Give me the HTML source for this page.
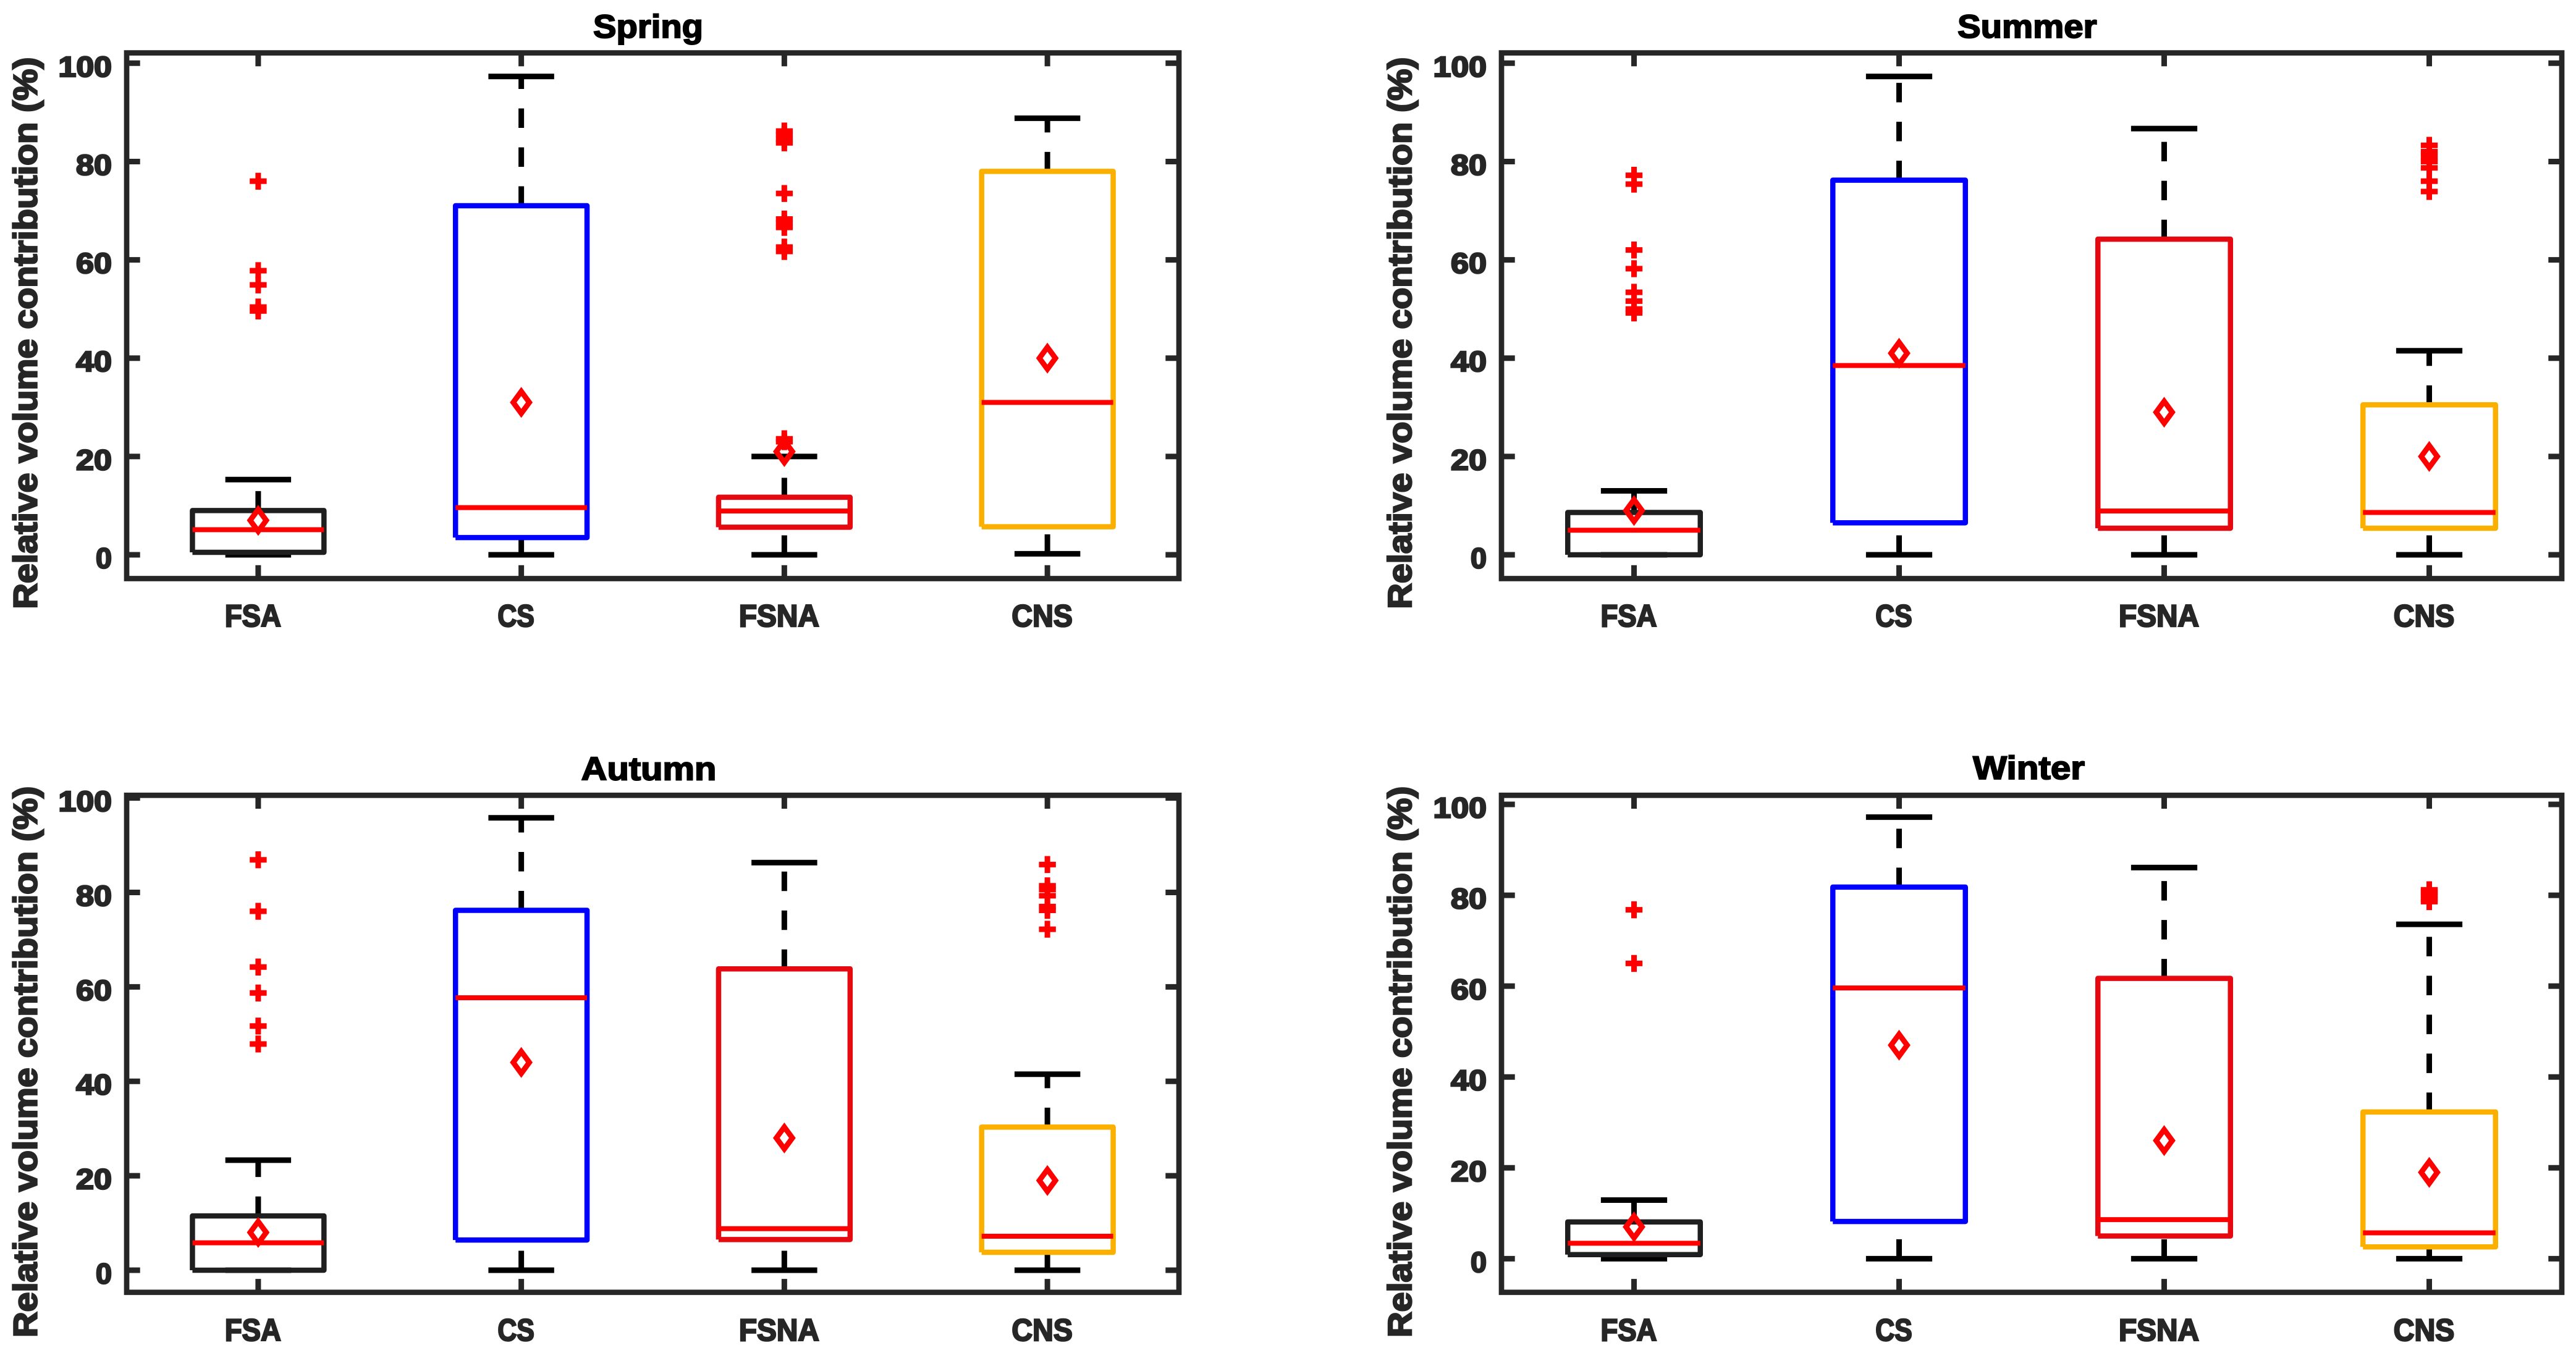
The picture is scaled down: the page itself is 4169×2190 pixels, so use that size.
<!DOCTYPE html>
<html lang="en">
<head>
<meta charset="utf-8">
<title>Relative volume contribution by season</title>
<style>
html,body{margin:0;padding:0;background:#fff;width:4169px;height:2190px;overflow:hidden}
svg{display:block}
text{font-family:"Liberation Sans",sans-serif;font-weight:700}
.lab{fill:#262626;stroke:#262626;stroke-width:2.5}
.ttl{fill:#000;stroke:#000;stroke-width:2}
</style>
</head>
<body>
<svg id="figure" xmlns="http://www.w3.org/2000/svg" width="4169" height="2190" viewBox="0 0 4169 2190">
  <rect x="0" y="0" width="4169" height="2190" fill="#fff"/>
  <text class="ttl" x="960" y="61.2" font-size="53" textLength="178" lengthAdjust="spacingAndGlyphs">Spring</text>
  <text class="ttl" x="3168" y="61.2" font-size="53" textLength="225.5" lengthAdjust="spacingAndGlyphs">Summer</text>
  <text class="ttl" x="940.7" y="1262.3" font-size="53" textLength="218.7" lengthAdjust="spacingAndGlyphs">Autumn</text>
  <text class="ttl" x="3193" y="1260.9" font-size="53" textLength="181" lengthAdjust="spacingAndGlyphs">Winter</text>
  <text class="lab" transform="translate(59.5 985.6) rotate(-90)" font-size="54" textLength="893" lengthAdjust="spacingAndGlyphs">Relative volume contribution (%)</text>
  <text class="lab" transform="translate(2284 985.6) rotate(-90)" font-size="54" textLength="893" lengthAdjust="spacingAndGlyphs">Relative volume contribution (%)</text>
  <text class="lab" transform="translate(59.5 2164.8) rotate(-90)" font-size="54" textLength="892" lengthAdjust="spacingAndGlyphs">Relative volume contribution (%)</text>
  <text class="lab" transform="translate(2284 2164.8) rotate(-90)" font-size="54" textLength="892" lengthAdjust="spacingAndGlyphs">Relative volume contribution (%)</text>
</svg>
<script>
const categories = ['FSA', 'CS', 'FSNA', 'CNS'];
const yTickValues = [0, 20, 40, 60, 80, 100];
const yTickLabels = ['0', '20', '40', '60', '80', '100'];

const springHigh = [15.3, 97.3, 20, 88.8];
const springQ3 = [9, 71, 11.7, 78];
const springMedian = [5.1, 9.6, 8.9, 31];
const springQ1 = [0.5, 3.5, 5.6, 5.7];
const springLow = [0, 0, 0, 0.2];
const springMean = [7, 31, 21, 40];
const springOutliers = [
  [76, 57.8, 54.9, 50.4, 49.6],
  [],
  [86.2, 85.5, 84.5, 83.8, 73.5, 68.3, 67.5, 66.6, 62.6, 61.7, 23.6, 23],
  []
];

const summerHigh = [13, 97.3, 86.7, 41.5];
const summerQ3 = [8.6, 76.2, 64.2, 30.5];
const summerMedian = [5, 38.5, 8.9, 8.6];
const summerQ1 = [0, 6.5, 5.4, 5.4];
const summerLow = [0, 0, 0, 0];
const summerMean = [9, 41, 29, 20];
const summerOutliers = [
  [77.2, 75.4, 62, 58.2, 53.4, 51.6, 50, 49.2],
  [],
  [],
  [83.3, 82, 81, 80, 78.7, 76, 73.9]
];

const autumnHigh = [23.3, 95.8, 86.3, 41.5];
const autumnQ3 = [11.5, 76.2, 63.8, 30.3];
const autumnMedian = [5.8, 57.7, 8.8, 7.2];
const autumnQ1 = [0, 6.4, 6.5, 3.8];
const autumnLow = [0, 0, 0, 0];
const autumnMean = [8, 44, 28, 19];
const autumnOutliers = [
  [86.9, 76, 64.2, 58.7, 51.7, 47.9],
  [],
  [],
  [85.9, 81.4, 80.6, 79.3, 77, 76.2, 72.2]
];

const winterHigh = [12.9, 97.2, 86.1, 73.6];
const winterQ3 = [8.1, 81.8, 61.7, 32.3];
const winterMedian = [3.4, 59.6, 8.6, 5.7];
const winterQ1 = [0.9, 8.2, 5, 2.6];
const winterLow = [0, 0, 0, 0];
const winterMean = [7, 47, 26, 19];
const winterOutliers = [
  [76.8, 65],
  [],
  [],
  [81.2, 80.6, 80, 79.2, 78.6]
];

const boxColors = ['#1f1f1f', '#0000ff', '#e60a10', '#fbb000'];

const panels = [
  {key:'spring', left:205, right:1908, top:85.6, bottom:936.5, yMin:-4.84, yMax:102.1, xLabelY:1014,
   high:springHigh, q3:springQ3, median:springMedian, q1:springQ1, low:springLow, mean:springMean, outliers:springOutliers},
  {key:'summer', left:2430, right:4146, top:85.6, bottom:936.5, yMin:-4.84, yMax:102.1, xLabelY:1014,
   high:summerHigh, q3:summerQ3, median:summerMedian, q1:summerQ1, low:summerLow, mean:summerMean, outliers:summerOutliers},
  {key:'autumn', left:205, right:1908, top:1287.3, bottom:2091.8, yMin:-4.68, yMax:100.56, xLabelY:2170,
   high:autumnHigh, q3:autumnQ3, median:autumnMedian, q1:autumnQ1, low:autumnLow, mean:autumnMean, outliers:autumnOutliers},
  {key:'winter', left:2430, right:4146, top:1287.3, bottom:2091.8, yMin:-7.4, yMax:102, xLabelY:2170,
   high:winterHigh, q3:winterQ3, median:winterMedian, q1:winterQ1, low:winterLow, mean:winterMean, outliers:winterOutliers}
];

const SVG_NS = 'http://www.w3.org/2000/svg';
const figure = document.getElementById('figure');
const AXIS_COLOR = '#262626';
const TICK_LEN = 21.7;
const DASH = '31.5 31.5';

function make(parent, tag, attrs) {
  const el = document.createElementNS(SVG_NS, tag);
  for (const k in attrs) el.setAttribute(k, attrs[k]);
  parent.appendChild(el);
  return el;
}

function xLabelWidth(label) {
  return {FSA:91, CS:59.5, FSNA:130, CNS:98.5}[label];
}
function yLabelWidth(label) {
  return {1:26, 2:58, 3:86.5}[label.length];
}

panels.forEach(function (p) {
  const xUnit = (p.right - p.left) / categories.length;
  const xScale = function (i) { return p.left + (i + 0.5) * xUnit; };
  const yScale = function (v) { return p.bottom - (v - p.yMin) / (p.yMax - p.yMin) * (p.bottom - p.top); };
  const boxHalf = xUnit * 0.25;
  const capHalf = xUnit * 0.125;

  const g = make(figure, 'g', {});
  
  

  const frame = make(g, 'rect', {x:p.left, y:p.top, width:p.right - p.left, height:p.bottom - p.top, fill:'none', stroke:AXIS_COLOR, 'stroke-width':8.7});
  
  

  yTickValues.forEach(function (v, t) {
    const y = yScale(v);
    const tl = make(g, 'line', {x1:p.left, x2:p.left + TICK_LEN, y1:y, y2:y, stroke:AXIS_COLOR, 'stroke-width':9});
    
    
    const tr = make(g, 'line', {x1:p.right, x2:p.right - TICK_LEN, y1:y, y2:y, stroke:AXIS_COLOR, 'stroke-width':9});
    
    
    const label = yTickLabels[t];
    const lab = make(g, 'text', {x:p.left - 24, y:y + 21.5, 'text-anchor':'end', 'font-size':46, class:'lab', textLength:yLabelWidth(label), lengthAdjust:'spacingAndGlyphs'});
    
    
    lab.textContent = label;
  });

  categories.forEach(function (cat, i) {
    const x = xScale(i);
    const name = p.key + '-' + cat.toLowerCase();

    const tt = make(g, 'line', {x1:x, x2:x, y1:p.top, y2:p.top + TICK_LEN, stroke:AXIS_COLOR, 'stroke-width':9});
    
    
    const tb = make(g, 'line', {x1:x, x2:x, y1:p.bottom, y2:p.bottom - TICK_LEN, stroke:AXIS_COLOR, 'stroke-width':9});
    
    
    const xl = make(g, 'text', {x:x - 8.5, y:p.xLabelY, 'text-anchor':'middle', 'font-size':50, class:'lab', textLength:xLabelWidth(cat), lengthAdjust:'spacingAndGlyphs'});
    
    
    xl.textContent = cat;

    const wu = make(g, 'line', {x1:x, x2:x, y1:yScale(p.q3[i]), y2:yScale(p.high[i]), stroke:'#000', 'stroke-width':9, 'stroke-dasharray':DASH});
    
    
    const wl = make(g, 'line', {x1:x, x2:x, y1:yScale(p.low[i]), y2:yScale(p.q1[i]), stroke:'#000', 'stroke-width':9, 'stroke-dasharray':DASH});
    
    

    const cu = make(g, 'line', {x1:x - capHalf, x2:x + capHalf, y1:yScale(p.high[i]), y2:yScale(p.high[i]), stroke:'#000', 'stroke-width':9});
    
    
    const cl = make(g, 'line', {x1:x - capHalf, x2:x + capHalf, y1:yScale(p.low[i]), y2:yScale(p.low[i]), stroke:'#000', 'stroke-width':9});
    
    

    const yT = yScale(p.q3[i]);
    const yB = yScale(p.q1[i]);
    const L = x - boxHalf;
    const R = x + boxHalf;
    const box = make(g, 'path', {d:'M' + L + ' ' + yB + 'L' + L + ' ' + yT + 'L' + R + ' ' + yT + 'L' + R + ' ' + yB + 'L' + L + ' ' + yB, fill:'none', stroke:boxColors[i], 'stroke-width':8.5, 'stroke-linejoin':'round'});
    
    

    const med = make(g, 'line', {x1:L, x2:R, y1:yScale(p.median[i]), y2:yScale(p.median[i]), stroke:'#ff0000', 'stroke-width':8});
    
    

    p.outliers[i].forEach(function (v) {
      const y = yScale(v);
      const o = make(g, 'path', {d:'M' + (x - 13.7) + ' ' + y + 'H' + (x + 13.7) + 'M' + x + ' ' + (y - 13.7) + 'V' + (y + 13.7), fill:'none', stroke:'#ff0000', 'stroke-width':9});
      
      
    });

    const my = yScale(p.mean[i]);
    const dia = make(g, 'path', {d:'M' + x + ' ' + (my - 17.7) + 'L' + (x + 13) + ' ' + my + 'L' + x + ' ' + (my + 17.7) + 'L' + (x - 13) + ' ' + my + 'Z', fill:'none', stroke:'#ff0000', 'stroke-width':8.7, 'stroke-linejoin':'miter'});
    
    
  });
});
</script>
</body>
</html>
